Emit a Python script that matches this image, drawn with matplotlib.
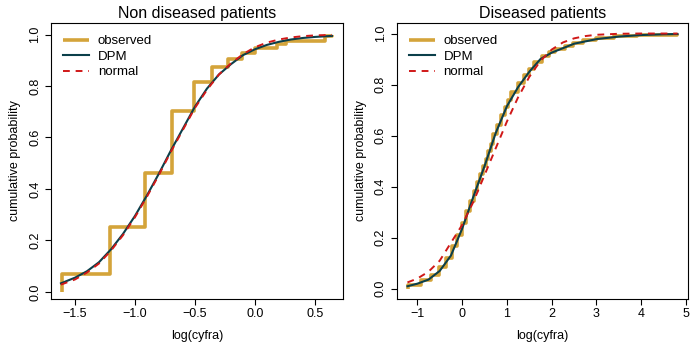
import matplotlib
matplotlib.use("Agg")
import matplotlib.pyplot as plt

plt.rcParams['font.family'] = ['Liberation Sans', 'DejaVu Sans']

# ---- Non diseased patients ----
nd_obs_x = [-1.609, -1.204, -0.916, -0.693, -0.511, -0.357, -0.223, -0.105, 0.0, 0.182, 0.262, 0.588, 0.642]
nd_obs_F = [0.069, 0.253, 0.463, 0.704, 0.816, 0.873, 0.904, 0.929, 0.947, 0.962, 0.975, 0.993, 1.0]

nd_dpm_x = [-1.617, -1.5, -1.4, -1.3, -1.2, -1.1, -1.0, -0.9, -0.8, -0.7, -0.6, -0.5, -0.4,
            -0.3, -0.2, -0.1, 0.0, 0.1, 0.2, 0.3, 0.4, 0.5, 0.642]
nd_dpm_F = [0.033, 0.055, 0.08, 0.115, 0.165, 0.225, 0.295, 0.375, 0.46, 0.55, 0.635, 0.72, 0.79,
            0.845, 0.885, 0.92, 0.943, 0.96, 0.972, 0.981, 0.987, 0.991, 0.995]
nd_norm_F = [0.028, 0.048, 0.075, 0.11, 0.16, 0.22, 0.29, 0.37, 0.455, 0.545, 0.63, 0.715, 0.785,
             0.845, 0.888, 0.924, 0.951, 0.969, 0.981, 0.989, 0.994, 0.997, 0.999]

# ---- Diseased patients ----
d_obs_x = [-1.204, -0.916, -0.693, -0.511, -0.357, -0.223, -0.105, 0.0, 0.095, 0.182, 0.262,
           0.336, 0.405, 0.470, 0.530, 0.588, 0.642, 0.693, 0.788, 0.875, 0.956, 1.030, 1.099,
           1.253, 1.386, 1.504, 1.609, 1.792, 1.946, 2.079, 2.303, 2.485, 2.708, 3.0, 3.4,
           3.912, 4.8]
d_obs_F = [0.015, 0.033, 0.056, 0.086, 0.12, 0.166, 0.21, 0.258, 0.305, 0.345, 0.384,
           0.418, 0.45, 0.48, 0.51, 0.54, 0.567, 0.605, 0.643, 0.68, 0.713, 0.74, 0.772,
           0.807, 0.837, 0.861, 0.89, 0.912, 0.926, 0.938, 0.952, 0.964, 0.973, 0.982, 0.99,
           0.995, 1.0]

d_dpm_x = [-1.22, -1.0, -0.75, -0.5, -0.25, 0.0, 0.25, 0.5, 0.75, 1.0, 1.25, 1.5, 1.75,
           2.0, 2.5, 3.0, 3.5, 4.0, 4.5, 4.81]
d_dpm_F = [0.01, 0.02, 0.036, 0.07, 0.13, 0.235, 0.36, 0.48, 0.61, 0.715, 0.79, 0.85, 0.9,
           0.925, 0.96, 0.978, 0.988, 0.994, 0.997, 0.998]

d_norm_x = [-1.22, -1.0, -0.75, -0.5, -0.25, 0.0, 0.25, 0.5, 0.75, 1.0, 1.25, 1.5, 1.75,
            2.0, 2.25, 2.5, 2.75, 3.0, 3.5, 4.0, 4.81]
d_norm_F = [0.025, 0.04, 0.067, 0.11, 0.18, 0.25, 0.34, 0.445, 0.55, 0.655, 0.75, 0.83, 0.893,
            0.937, 0.965, 0.981, 0.99, 0.995, 0.999, 1.0, 1.0]

col_obs = '#D4A43A'
col_dpm = '#0B3F4A'
col_norm = '#D01818'

fig = plt.figure(figsize=(6.9, 3.43), dpi=100)
ax1 = fig.add_axes([51 / 690, 44.5 / 343, 291.5 / 690, 275.2 / 343])
ax2 = fig.add_axes([396.7 / 690, 44.5 / 343, 291.6 / 690, 275.2 / 343])


def panel(ax, title, ox, oF, dx, dF, nx, nF, xlim, ylim, xticks, xticklabels):
    # ECDF drawn from 0 up at the first observation
    sx = [ox[0]] + ox
    sF = [0.0] + oF
    ax.step(sx, sF, where='post', color=col_obs, lw=2.6, label='observed',
            solid_capstyle='butt')
    ax.plot(dx, dF, color=col_dpm, lw=1.5, label='DPM')
    ax.plot(nx, nF, color=col_norm, lw=1.4, ls=(0, (3.5, 3)), label='normal')
    ax.set_xlim(*xlim)
    ax.set_ylim(*ylim)
    ax.set_xticks(xticks)
    ax.set_xticklabels(xticklabels)
    ax.set_yticks([0.0, 0.2, 0.4, 0.6, 0.8, 1.0])
    ax.set_yticklabels(['0.0', '0.2', '0.4', '0.6', '0.8', '1.0'], rotation=90, va='center')
    ax.tick_params(labelsize=9, length=4, width=0.8, pad=3, colors='black')
    for s in ax.spines.values():
        s.set_linewidth(0.8)
    ax.set_title(title, fontsize=11.5, pad=4)
    ax.set_xlabel('log(cyfra)', fontsize=9, labelpad=7)
    ax.set_ylabel('cumulative probability', fontsize=9, labelpad=6)
    ax.legend(loc='upper left', frameon=False, fontsize=9.5, handlelength=2.0,
              handletextpad=0.65, labelspacing=0.25, borderaxespad=0.5,
              bbox_to_anchor=(0.0, 1.0))


panel(ax1, 'Non diseased patients', nd_obs_x, nd_obs_F, nd_dpm_x, nd_dpm_F, nd_dpm_x, nd_norm_F,
      (-1.70, 0.73), (-0.026, 1.044), [-1.5, -1.0, -0.5, 0.0, 0.5],
      ['\u22121.5', '\u22121.0', '\u22120.5', '0.0', '0.5'])
panel(ax2, 'Diseased patients', d_obs_x, d_obs_F, d_dpm_x, d_dpm_F, d_norm_x, d_norm_F,
      (-1.46, 5.05), (-0.038, 1.04), [-1, 0, 1, 2, 3, 4, 5],
      ['\u22121', '0', '1', '2', '3', '4', '5'])

fig.savefig('out.png', dpi=100)
